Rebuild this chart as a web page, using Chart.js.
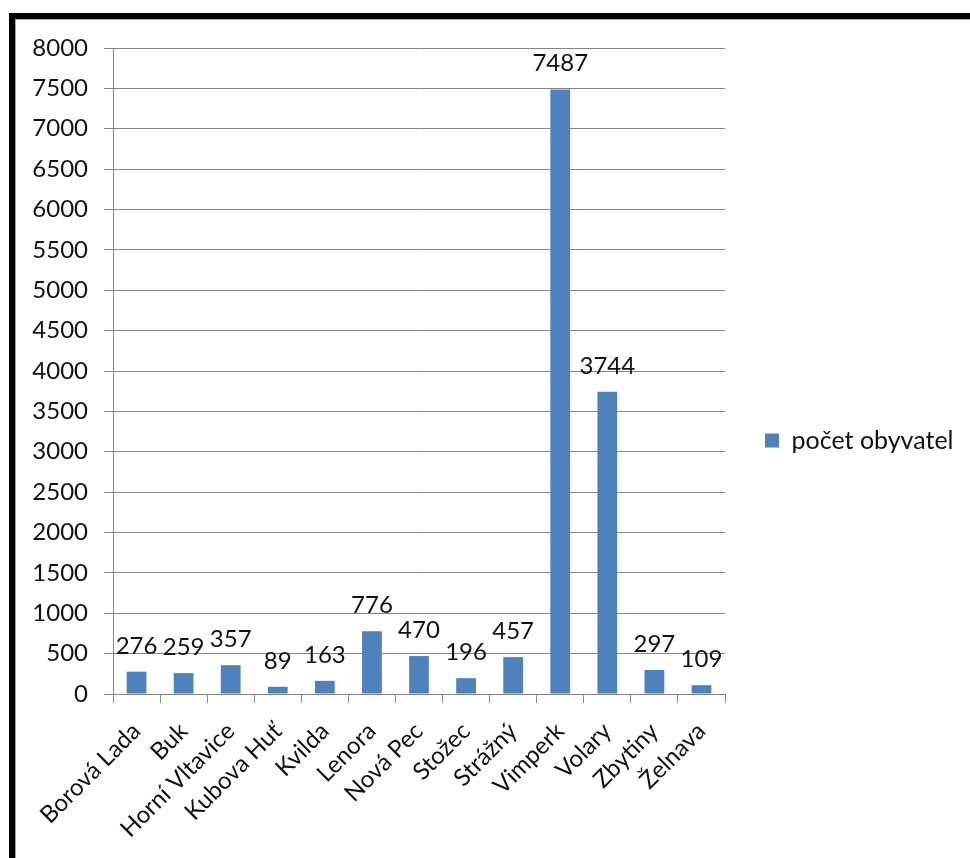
<!DOCTYPE html>
<html>
<head>
<meta charset="utf-8">
<script src="https://cdn.jsdelivr.net/npm/chart.js@4/dist/chart.umd.min.js"></script>
<style>
  html, body { margin: 0; padding: 0; background: #fff; width: 970px; height: 858px; overflow: hidden; }
  #frame {
    position: absolute; left: 9px; top: 13px; width: 1000px; height: 845px;
    border-left: 6px solid #000; border-top: 6px solid #000;
  }
  #inner {
    position: absolute; left: 0; top: 0; width: 1000px; height: 838px;
    border-left: 1px solid #a6a6a6; border-top: 1px solid #a6a6a6; border-bottom: 1px solid #c8c8c8;
  }
  canvas { position: absolute; left: 0; top: 0; }
</style>
</head>
<body>
<div id="frame"><div id="inner"><canvas id="c" width="954" height="837" style="width:954px;height:837px"></canvas></div></div>
<script>
// Population of municipalities (počet obyvatel)
const categories = ['Borová Lada', 'Buk', 'Horní Vltavice', 'Kubova Huť', 'Kvilda', 'Lenora',
  'Nová Pec', 'Stožec', 'Strážný', 'Vimperk', 'Volary', 'Zbytiny', 'Želnava'];
const population = [276, 259, 357, 89, 163, 776, 470, 196, 457, 7487, 3744, 297, 109];
const seriesName = 'počet obyvatel';
const yMin = 0, yMax = 8000, yStep = 500;

const FONT = 'Lato, "Open Sans", sans-serif';
const TEXT = '#111';
const GRID = '#868686';
const BAR = '#4F81BD';

// value labels above each bar
const valueLabels = {
  id: 'valueLabels',
  afterDatasetsDraw(chart) {
    const ctx = chart.ctx;
    const meta = chart.getDatasetMeta(0);
    ctx.save();
    ctx.font = '24px ' + FONT;
    ctx.fillStyle = TEXT;
    ctx.textAlign = 'center';
    ctx.textBaseline = 'alphabetic';
    meta.data.forEach((bar, i) => {
      ctx.fillText(String(chart.data.datasets[0].data[i]), bar.x, bar.y - 18);
    });
    ctx.restore();
  }
};

// fixed legend column width; legend centred on the full canvas height
const legendBox = {
  id: 'legendBox',
  beforeLayout(chart) {
    const lg = chart.legend;
    if (lg && !lg._fixedWidth) {
      const fit = lg.fit;
      lg.fit = function () { fit.call(this); this.width = 245; };
      lg._fixedWidth = true;
    }
  },
  afterLayout(chart) {
    const lg = chart.legend;
    if (lg) { lg.top = 4; lg.bottom = chart.height; }
  }
};

new Chart(document.getElementById('c'), {
  type: 'bar',
  data: {
    labels: categories,
    datasets: [{
      label: seriesName,
      data: population,
      backgroundColor: BAR,
      borderWidth: 0,
      categoryPercentage: 1,
      barPercentage: 0.42
    }]
  },
  options: {
    responsive: false,
    animation: false,
    layout: { padding: { top: 28, right: 0, bottom: 0, left: 0 } },
    plugins: {
      tooltip: { enabled: false },
      legend: {
        position: 'right',
        align: 'center',
        labels: {
          color: TEXT,
          font: { family: FONT, size: 25 },
          boxWidth: 14,
          boxHeight: 14,
          padding: 40
        }
      }
    },
    scales: {
      x: {
        grid: {
          offset: true,
          drawOnChartArea: false,
          drawTicks: true,
          tickLength: 9,
          color: GRID
        },
        border: { display: true, color: GRID, width: 1 },
        ticks: {
          color: TEXT,
          font: { family: FONT, size: 24 },
          minRotation: 45,
          maxRotation: 45,
          autoSkip: false,
          padding: 14
        },
        afterFit(scale) { scale.height = 163; }
      },
      y: {
        min: yMin,
        max: yMax,
        grid: { color: GRID, tickLength: 9, drawTicks: true },
        border: { display: true, color: GRID, width: 1 },
        ticks: {
          stepSize: yStep,
          color: TEXT,
          font: { family: FONT, size: 24 },
          padding: 16,
          callback: (v) => String(v)
        },
        afterFit(scale) {
          scale.width = 97;
          scale.paddingTop = 0;
          scale.paddingBottom = 0;
        }
      }
    }
  },
  plugins: [valueLabels, legendBox]
});
</script>
</body>
</html>
